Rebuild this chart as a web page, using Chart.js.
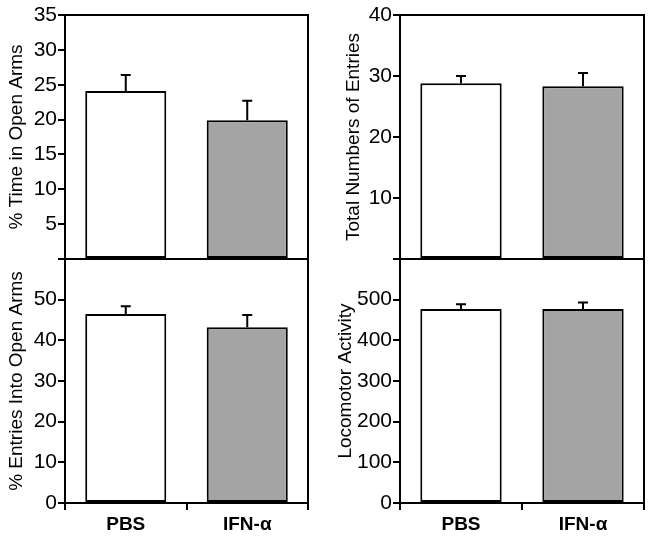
<!DOCTYPE html>
<html>
<head>
<meta charset="utf-8">
<script src="https://cdn.jsdelivr.net/npm/chart.js@4.4.0/dist/chart.umd.min.js"></script>
<style>
  body { margin: 0; background: #fff; }
  #wrap { position: relative; width: 649px; height: 540px; overflow: hidden; }
  .panel { position: absolute; }
</style>
</head>
<body>
<div id="wrap">
  <div class="panel" id="p1" style="left:0px; top:0px; width:312px; height:274px;"><canvas id="c1"></canvas></div>
  <div class="panel" id="p2" style="left:330px; top:0px; width:319px; height:274px;"><canvas id="c2"></canvas></div>
  <div class="panel" id="p3" style="left:0px; top:244px; width:312px; height:296px;"><canvas id="c3"></canvas></div>
  <div class="panel" id="p4" style="left:330px; top:244px; width:319px; height:296px;"><canvas id="c4"></canvas></div>
</div>
<script>
var groups = ['PBS', 'IFN-\u03b1'];

var timeOpen = [24.1, 19.9];
var timeOpenErr = [2.3, 2.8];

var totalEntries = [28.8, 28.3];
var totalEntriesErr = [1.2, 2.2];

var entriesOpen = [46.5, 43.2];
var entriesOpenErr = [1.9, 3.0];

var locomotor = [477, 477];
var locomotorErr = [12, 16];

var barColors = ['#ffffff', '#a4a4a4'];
var font = 'Liberation Sans, Arial, sans-serif';

// box round the plot area
var frame = {
  id: 'frame',
  afterDatasetsDraw: function (chart) {
    var a = chart.chartArea, ctx = chart.ctx;
    ctx.save();
    ctx.strokeStyle = '#000';
    ctx.lineWidth = 2;
    ctx.strokeRect(a.left, a.top, a.right - a.left, a.bottom - a.top);
    ctx.restore();
  }
};

// upward-only SEM whiskers
var whiskers = {
  id: 'whiskers',
  afterDatasetsDraw: function (chart) {
    var errs = chart.options.plugins.whiskers.errors;
    var meta = chart.getDatasetMeta(0);
    var y = chart.scales.y, ctx = chart.ctx;
    var vals = chart.data.datasets[0].data;
    ctx.save();
    ctx.strokeStyle = '#000';
    ctx.lineWidth = 2;
    meta.data.forEach(function (bar, i) {
      var y0 = y.getPixelForValue(vals[i]);
      var y1 = y.getPixelForValue(vals[i] + errs[i]);
      ctx.beginPath();
      ctx.moveTo(bar.x, y0);
      ctx.lineTo(bar.x, y1);
      ctx.moveTo(bar.x - 5, y1);
      ctx.lineTo(bar.x + 5, y1);
      ctx.stroke();
    });
    ctx.restore();
  }
};

function makeChart(id, opts) {
  var isBottom = opts.bottom;
  return new Chart(document.getElementById(id), {
    type: 'bar',
    data: {
      labels: groups,
      datasets: [{
        data: opts.values,
        backgroundColor: barColors,
        borderColor: '#000',
        borderWidth: 2,
        borderSkipped: false,
        barPercentage: 0.667,
        categoryPercentage: 1
      }]
    },
    options: {
      responsive: true,
      maintainAspectRatio: false,
      animation: false,
      layout: { padding: isBottom ? { top: 15, right: opts.padRight, bottom: 0 } : { top: 15, right: opts.padRight, bottom: 15 } },
      plugins: {
        legend: { display: false },
        tooltip: { enabled: false },
        whiskers: { errors: opts.errors }
      },
      scales: {
        x: {
          display: isBottom,
          grid: { display: true, drawOnChartArea: false, drawTicks: true, tickLength: 7, color: '#000', lineWidth: 2 },
          border: { display: false },
          ticks: { color: '#000', padding: 3, font: { family: font, size: 19, weight: 'bold' } },
          afterFit: function (s) { s.height = isBottom ? 37 : 0; }
        },
        y: {
          min: 0,
          max: opts.max,
          grid: { display: true, drawOnChartArea: false, drawTicks: true, tickLength: 7, color: '#000', lineWidth: 2 },
          border: { display: false },
          ticks: {
            stepSize: opts.step,
            color: '#000',
            padding: 1,
            font: { family: font, size: 21 },
            callback: function (v) { return opts.hide.indexOf(v) >= 0 ? '' : v; }
          },
          title: {
            display: true,
            text: opts.title,
            color: '#000',
            padding: { top: opts.titlePad, bottom: 0 },
            font: { family: font, size: 19 }
          },
          afterFit: function (s) { s.width = opts.axisWidth; }
        }
      }
    },
    plugins: [frame, whiskers]
  });
}

makeChart('c1', { values: timeOpen, errors: timeOpenErr, max: 35, step: 5, hide: [0],
  title: '% Time in Open Arms', titlePad: 5, axisWidth: 65, padRight: 4, bottom: false });
makeChart('c2', { values: totalEntries, errors: totalEntriesErr, max: 40, step: 10, hide: [0],
  title: 'Total Numbers of Entries', titlePad: 12, axisWidth: 70, padRight: 5, bottom: false });
makeChart('c3', { values: entriesOpen, errors: entriesOpenErr, max: 60, step: 10, hide: [60],
  title: '% Entries Into Open Arms', titlePad: 5, axisWidth: 65, padRight: 4, bottom: true });
makeChart('c4', { values: locomotor, errors: locomotorErr, max: 600, step: 100, hide: [600],
  title: 'Locomotor Activity', titlePad: 4, axisWidth: 70, padRight: 5, bottom: true });
</script>
</body>
</html>
